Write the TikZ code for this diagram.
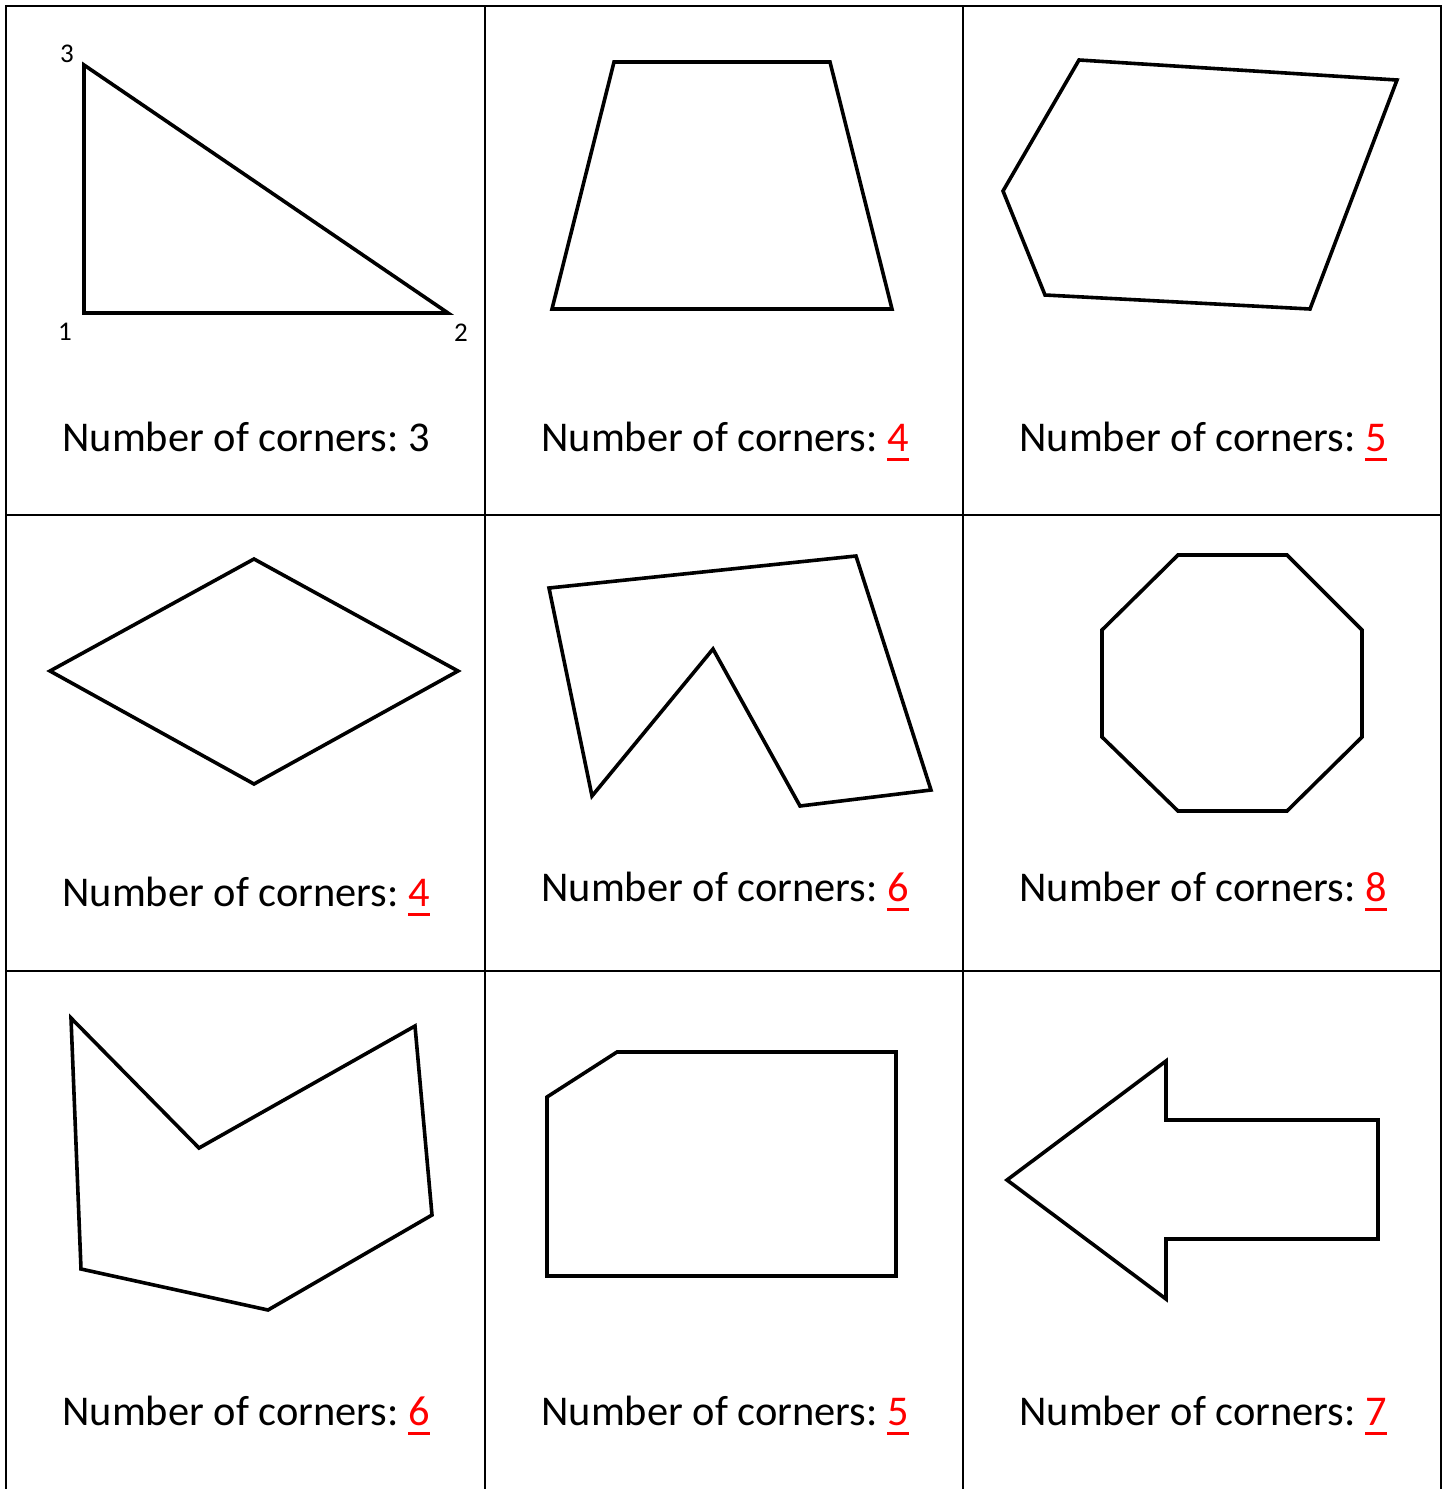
\documentclass[tikz,border=0pt]{standalone}
\usepackage{fontspec}
\setmainfont{Carlito}
\frenchspacing
\newcommand{\ans}[1]{\textcolor{red}{\setbox0\hbox{#1}\rlap{\rule[-5pt]{\wd0}{1.4pt}}\box0}}
\tikzset{
  cellline/.style={line width=1pt},
  figline/.style={line width=1.8pt, line join=miter},
  answer/.style={anchor=base west, inner sep=0pt, font=\fontsize{21.2}{26}\selectfont},
  corner/.style={inner sep=0pt, font=\fontsize{13.5}{16}\selectfont}
}
\begin{document}
\begin{tikzpicture}[x=0.5pt,y=-0.5pt]
\useasboundingbox (0,0) rectangle (1445,1489);
% table
\draw[cellline] (6,1489) -- (6,6) -- (1441,6) -- (1441,1489);
\draw[cellline] (485,6) -- (485,1489);
\draw[cellline] (963,6) -- (963,1489);
\draw[cellline] (6,515) -- (1441,515);
\draw[cellline] (6,971) -- (1441,971);
% row 1
\draw[figline] (84,313) -- (448,313) -- (84,65) -- cycle;
\node[corner] (c1) at (65,332) {1};
\node[corner] (c2) at (461,333) {2};
\node[corner] (c3) at (67,54) {3};
\draw[figline] (552,309) -- (892,309) -- (830,62) -- (614,62) -- cycle;
\draw[figline] (1079,60) -- (1397,80) -- (1310,309) -- (1045,295) -- (1003,191) -- cycle;
\node[answer] (t1) at (62,451) {Number of corners: 3};
\node[answer] (t2) at (541,451) {Number of corners: \ans{4}};
\node[answer] (t3) at (1019,451) {Number of corners: \ans{5}};
% row 2
\draw[figline] (50,671) -- (254,559) -- (458,671) -- (254,784) -- cycle;
\draw[figline] (549,588) -- (856,556) -- (931,790) -- (800,806) -- (713,649) -- (592,796) -- cycle;
\draw[figline] (1178,555) -- (1287,555) -- (1362,630) -- (1362,737) -- (1287,811) -- (1178,811) -- (1102,737) -- (1102,630) -- cycle;
\node[answer] (t4) at (62,906) {Number of corners: \ans{4}};
\node[answer] (t5) at (541,901) {Number of corners: \ans{6}};
\node[answer] (t6) at (1019,901) {Number of corners: \ans{8}};
% row 3
\draw[figline] (71,1018) -- (199,1148) -- (415,1026) -- (432,1215) -- (268,1310) -- (81,1269) -- cycle;
\draw[figline] (547,1097) -- (617,1052) -- (896,1052) -- (896,1276) -- (547,1276) -- cycle;
\draw[figline] (1007,1180) -- (1166,1061) -- (1166,1120) -- (1378,1120) -- (1378,1239) -- (1166,1239) -- (1166,1299) -- cycle;
\node[answer] (t7) at (62,1425) {Number of corners: \ans{6}};
\node[answer] (t8) at (541,1425) {Number of corners: \ans{5}};
\node[answer] (t9) at (1019,1425) {Number of corners: \ans{7}};
\end{tikzpicture}
\end{document}
